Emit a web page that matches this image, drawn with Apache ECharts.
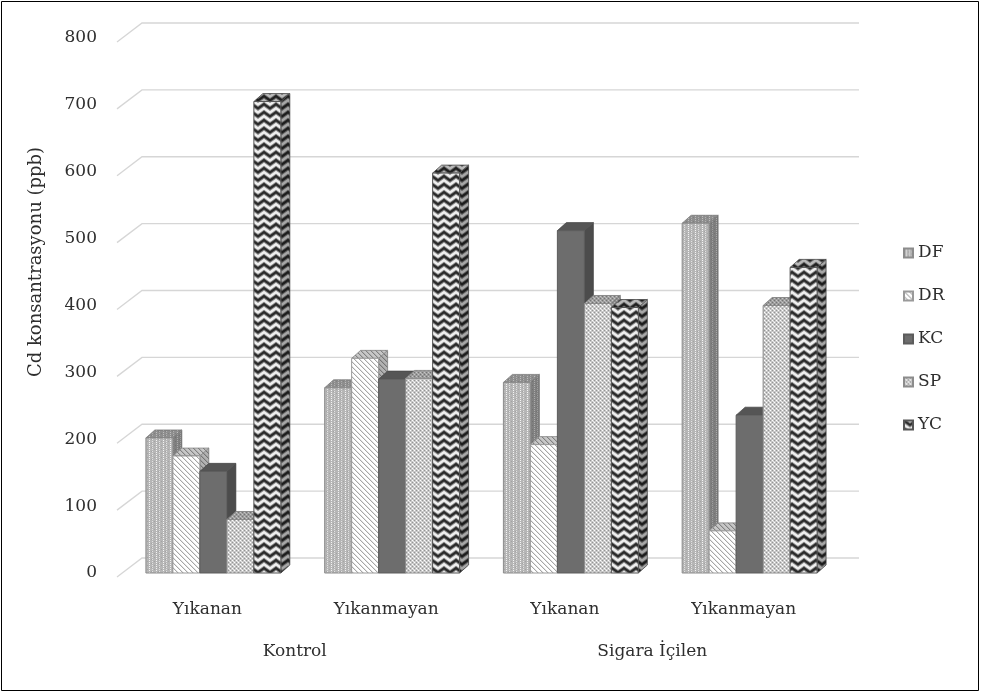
<!DOCTYPE html>
<html>
<head>
<meta charset="utf-8">
<script src="https://cdn.jsdelivr.net/npm/echarts@6/dist/echarts.min.js"></script>
<style>
  html, body { margin: 0; padding: 0; background: #ffffff; }
  #chart { width: 981px; height: 693px; }
</style>
</head>
<body>
<div id="chart"></div>
<script>
// Cd concentrations (ppb) per sample group and hair/tissue type
const categories = ['Yıkanan', 'Yıkanmayan', 'Yıkanan', 'Yıkanmayan'];
const groups = ['Kontrol', 'Sigara İçilen'];
const seriesNames = ['DF', 'DR', 'KC', 'SP', 'YC'];
const DF = [202, 277, 285, 523];
const DR = [175, 321, 192, 63];
const KC = [152, 290, 512, 236];
const SP = [80, 291, 403, 400];
const YC = [705, 598, 397, 457];
const yTicks = [0, 100, 200, 300, 400, 500, 600, 700, 800];
const yTitle = 'Cd konsantrasyonu (ppb)';

const seriesValues = [DF, DR, KC, SP, YC];
const FONT = '"DejaVu Serif", "Liberation Serif", serif';
const TEXT = '#2e2e2e';

// ---- fill textures ----
function tex(w, h, draw) {
  const c = document.createElement('canvas');
  c.width = w; c.height = h;
  const ctx = c.getContext('2d');
  draw(ctx, w, h);
  return { image: c, repeat: 'repeat' };
}
function px(ctx, x, y, col) { ctx.fillStyle = col; ctx.fillRect(x, y, 1, 1); }

const fills = [
  // DF: light gray with dotted lighter columns
  tex(7, 4, (ctx, w, h) => {
    ctx.fillStyle = '#b6b6b6'; ctx.fillRect(0, 0, w, h);
    px(ctx, 2, 0, '#f4f4f4'); px(ctx, 2, 2, '#f4f4f4');
    px(ctx, 5, 1, '#e2e2e2'); px(ctx, 5, 3, '#e2e2e2');
    px(ctx, 0, 1, '#a4a4a4'); px(ctx, 4, 3, '#a4a4a4');
  }),
  // DR: white with fine gray diagonal hatching
  tex(5, 5, (ctx, w, h) => {
    ctx.fillStyle = '#ffffff'; ctx.fillRect(0, 0, w, h);
    for (let i = 0; i < 5; i++) px(ctx, i, i, '#a6a6a6');
    for (let i = 0; i < 5; i++) px(ctx, (i + 1) % 5, i, '#e4e4e4');
  }),
  // KC: solid dark gray
  '#6d6d6d',
  // SP: light gray checker dots
  tex(4, 4, (ctx, w, h) => {
    ctx.fillStyle = '#c8c8c8'; ctx.fillRect(0, 0, w, h);
    px(ctx, 0, 0, '#ffffff'); px(ctx, 2, 2, '#ffffff');
    px(ctx, 2, 0, '#959595'); px(ctx, 0, 2, '#959595');
    px(ctx, 1, 1, '#e6e6e6');
  }),
  // YC: chevron weave with gray shading
  tex(12, 8, (ctx, w, h) => {
    ctx.fillStyle = '#efefef'; ctx.fillRect(0, 0, w, h);
    ctx.strokeStyle = '#8a8a8a'; ctx.lineWidth = 4;
    for (const y of [-8, 0, 8]) {
      ctx.beginPath();
      ctx.moveTo(-1, y - 0.5); ctx.lineTo(6, y + 4.5); ctx.lineTo(13, y - 0.5);
      ctx.stroke();
    }
    ctx.strokeStyle = '#2a2a2a'; ctx.lineWidth = 2.2;
    for (const y of [-8, 0, 8]) {
      ctx.beginPath();
      ctx.moveTo(-1, y - 0.5); ctx.lineTo(6, y + 4.5); ctx.lineTo(13, y - 0.5);
      ctx.stroke();
    }
  })
];
const strokes = ['#8c8c8c', '#9a9a9a', '#5c5c5c', '#8c8c8c', '#555555'];

// depth offset of the extruded columns
const DX = 9, DY = -8;

function barRenderer(sIdx) {
  return function (params, api) {
    const cat = api.value(0), val = api.value(1);
    const p0 = api.coord([cat, 0]);
    const p1 = api.coord([cat, val]);
    const band = api.size([1, 0])[0];
    const bw = band * 0.151;
    const x0 = p0[0] - bw * seriesNames.length / 2 + sIdx * bw;
    const x1 = x0 + bw;
    const yb = p0[1], yt = p1[1];
    const fill = fills[sIdx];
    const st = strokes[sIdx];
    const front = { x: x0, y: yt, width: bw, height: yb - yt };
    const topPts = [[x0, yt], [x1, yt], [x1 + DX, yt + DY], [x0 + DX, yt + DY]];
    const sidePts = [[x1, yt], [x1, yb], [x1 + DX, yb + DY], [x1 + DX, yt + DY]];
    return {
      type: 'group',
      children: [
        { type: 'polygon', shape: { points: sidePts }, style: { fill: fill, stroke: st, lineWidth: 0.8 } },
        { type: 'polygon', shape: { points: sidePts }, style: { fill: 'rgba(0,0,0,0.3)' } },
        { type: 'polygon', shape: { points: topPts }, style: { fill: fill, stroke: st, lineWidth: 0.8 } },
        { type: 'polygon', shape: { points: topPts }, style: { fill: 'rgba(0,0,0,0.22)' } },
        { type: 'rect', shape: front, style: { fill: fill, stroke: st, lineWidth: 1 } }
      ]
    };
  };
}

// back-wall grid lines with their slanted side-wall segment
function gridRenderer(params, api) {
  const cs = params.coordSys;
  const y = api.coord([0, api.value(1)])[1];
  return {
    type: 'polyline',
    shape: { points: [[cs.x - 7, y + 4], [cs.x + 18, y - 15], [cs.x + cs.width + 20, y - 15]] },
    style: { stroke: '#d6d6d6', lineWidth: 1.3, fill: null }
  };
}

const chart = echarts.init(document.getElementById('chart'), null, { renderer: 'canvas' });

const series = [{
  type: 'custom',
  name: '__grid',
  silent: true,
  z: 0,
  renderItem: gridRenderer,
  encode: { x: 0, y: 1 },
  data: yTicks.map(v => [0, v])
}];
seriesNames.forEach((name, s) => {
  series.push({
    type: 'custom',
    name: name,
    z: 2 + s,
    renderItem: barRenderer(s),
    encode: { x: 0, y: 1 },
    itemStyle: { color: fills[s], borderColor: strokes[s], borderWidth: 0.6 },
    data: seriesValues[s].map((v, i) => [i, v])
  });
});

chart.setOption({
  animation: false,
  backgroundColor: '#ffffff',
  grid: { left: 124, right: 142, top: 38, bottom: 120 },
  xAxis: [{
    type: 'category',
    data: categories,
    axisLine: { show: false },
    axisTick: { show: false },
    axisLabel: {
      fontFamily: FONT, fontSize: 17, color: TEXT,
      margin: 28, padding: [0, 12, 0, 0]
    }
  }, {
    type: 'category',
    data: groups,
    position: 'bottom',
    offset: 42,
    axisLine: { show: false },
    axisTick: { show: false },
    axisLabel: {
      fontFamily: FONT, fontSize: 17, color: TEXT,
      margin: 28, padding: [0, 16, 0, 0]
    }
  }],
  yAxis: {
    type: 'value',
    min: 0, max: 800, interval: 100,
    axisLine: { show: false },
    axisTick: { show: false },
    splitLine: { show: false },
    axisLabel: { fontFamily: FONT, fontSize: 17, color: TEXT, margin: 27 }
  },
  legend: {
    orient: 'vertical',
    left: 898, top: 239,
    itemWidth: 9, itemHeight: 9, itemGap: 25,
    icon: 'rect',
    data: seriesNames,
    textStyle: { fontFamily: FONT, fontSize: 17, color: TEXT, lineHeight: 18 }
  },
  graphic: [{
    type: 'text',
    x: 36, y: 262,
    rotation: Math.PI / 2,
    style: {
      text: yTitle, font: '18px ' + FONT, fill: TEXT,
      textAlign: 'center', textVerticalAlign: 'middle'
    }
  }, {
    type: 'rect',
    shape: { x: 1.5, y: 1.5, width: 977, height: 689 },
    style: { fill: null, stroke: '#000000', lineWidth: 1 },
    silent: true
  }],
  series: series
});
</script>
</body>
</html>
